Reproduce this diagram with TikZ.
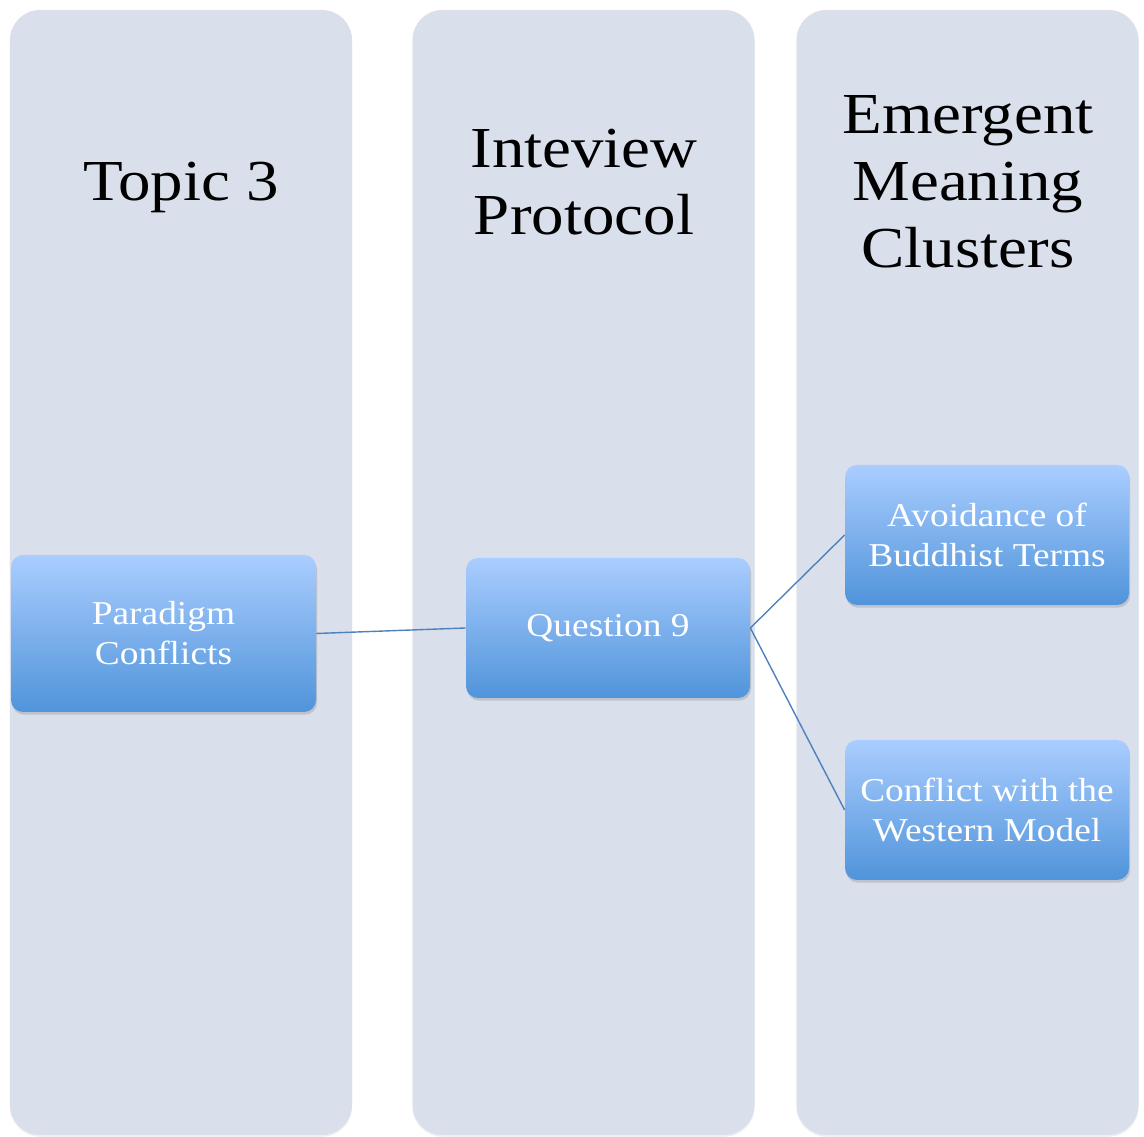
\documentclass[tikz,border=0pt]{standalone}
\usepackage{fontspec}
\setmainfont[FakeStretch=1.12]{Liberation Serif}
\usepackage{tikz}
\usetikzlibrary{positioning,shadows}
\definecolor{lanebg}{RGB}{217,223,235}
\definecolor{boxtop}{RGB}{170,205,255}
\definecolor{boxbot}{RGB}{80,148,218}
\definecolor{link}{RGB}{79,129,189}
\tikzstyle{lane}=[fill=lanebg, rounded corners=0.6cm, minimum width=6.84cm, minimum height=22.5cm, inner sep=0pt, drop shadow={shadow xshift=0pt, shadow yshift=-1pt, opacity=0.12}]
\tikzstyle{head}=[align=center, font=\fontsize{33}{38}\selectfont]
\tikzstyle{item}=[rounded corners=0.24cm, top color=boxtop, bottom color=boxbot, text=white, align=center, font=\fontsize{19}{22.8}\selectfont, minimum width=5.68cm, minimum height=2.8cm, inner sep=2pt, drop shadow={shadow xshift=0.6pt, shadow yshift=-1.5pt, opacity=0.3}]
\tikzstyle{lnk}=[draw=link, line width=0.8pt]

\begin{document}
\begin{tikzpicture}
    \useasboundingbox (0,0) rectangle (22.88,22.74);
    % lanes
    \node [lane] (l1) at (3.62,11.29) {};
    \node [lane] (l2) at (11.67,11.29) {};
    \node [lane] (l3) at (19.35,11.29) {};
    % headings
    \node [head] (h1) at (3.62,19.0) {Topic 3};
    \node [head] (h2) at (11.68,19.1) {Inteview\\Protocol};
    \node [head] (h3) at (19.36,19.1) {Emergent\\Meaning\\Clusters};
    % items
    \node [item, minimum width=6.1cm, minimum height=3.14cm] (pc) at (3.27,10.07) {Paradigm\\Conflicts};
    \node [item] (q9) at (12.16,10.18) {Question 9};
    \node [item] (av) at (19.74,12.04) {Avoidance of\\Buddhist Terms};
    \node [item] (cw) [below of=av, node distance=5.5cm] {Conflict with the\\Western Model};
    \path[lnk]
    (pc.east) edge (q9.west)
    (q9.east) edge (av.west)
    (q9.east) edge (cw.west);
\end{tikzpicture}
\end{document}
